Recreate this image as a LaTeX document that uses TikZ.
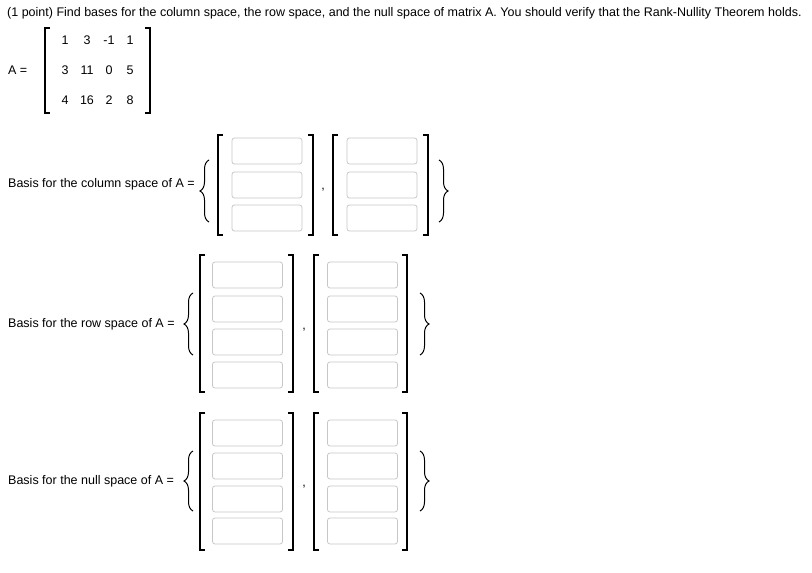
\documentclass[tikz,border=0pt]{standalone}
\usepackage{fontspec}
\setmainfont{Liberation Sans}
\usetikzlibrary{decorations.pathreplacing}
\tikzset{
  inbox/.style={draw=black!22,fill=white,rounded corners=2.5pt,minimum width=70pt,minimum height=26pt,inner sep=0pt,line width=0.8pt},
  brk/.style={line width=1.1pt},
  txt/.style={font=\fontsize{12.5}{14}\selectfont,inner sep=0pt},
  mtx/.style={font=\fontsize{12.5}{14}\selectfont,inner sep=0pt},
  brc/.style={line width=1pt,decorate,decoration={brace,amplitude=9pt}}
}
\newcommand{\lbr}[3]{\draw[brk] (#1+5,#2)--(#1,#2)--(#1,#3)--(#1+5,#3);}
\newcommand{\rbr}[3]{\draw[brk] (#1-5,#2)--(#1,#2)--(#1,#3)--(#1-5,#3);}
\begin{document}
\begin{tikzpicture}[x=1pt,y=-1pt]
\useasboundingbox (0,0) rectangle (812,573);
\node[txt,anchor=west] (title) at (7,13) {(1 point) Find bases for the column space, the row space, and the null space of matrix A. You should verify that the Rank-Nullity Theorem holds.};
\node[txt,anchor=west] (aeq) at (8,70) {A =};
\lbr{45}{28}{113}\rbr{150}{28}{113}
\node[mtx] (m11) at (65,40) {1};\node[mtx] (m12) at (87,40) {3};\node[mtx] (m13) at (109,40) {-1};\node[mtx] (m14) at (130,40) {1};
\node[mtx] (m21) at (65,70) {3};\node[mtx] (m22) at (87,70) {11};\node[mtx] (m23) at (109,70) {0};\node[mtx] (m24) at (130,70) {5};
\node[mtx] (m31) at (65,100) {4};\node[mtx] (m32) at (87,100) {16};\node[mtx] (m33) at (109,100) {2};\node[mtx] (m34) at (130,100) {8};
% column space
\node[txt,anchor=west] (lc) at (8,184) {Basis for the column space of A =};
\draw[brc] (209,222) -- (209,160);
\lbr{218}{135}{235}\rbr{313}{135}{235}
\lbr{333}{135}{235}\rbr{428}{135}{235}
\foreach \i/\y in {1/151,2/185,3/218}{
  \node[inbox] (ca\i) at (267,\y) {};
  \node[inbox] (cb\i) at (382,\y) {};
}
\node[txt] (cc) at (323,190) {,};
\draw[brc] (439,160) -- (439,222);
% row space
\node[txt,anchor=west] (lr) at (8,324) {Basis for the row space of A =};
\draw[brc] (193,355) -- (193,293);
\lbr{200}{255}{392}\rbr{293}{255}{392}
\lbr{314}{255}{392}\rbr{407}{255}{392}
\foreach \i/\y in {1/275,2/309,3/342,4/375}{
  \node[inbox] (ra\i) at (247.5,\y) {};
  \node[inbox] (rb\i) at (362.5,\y) {};
}
\node[txt] (rc) at (304,330) {,};
\draw[brc] (420,293) -- (420,355);
% null space
\node[txt,anchor=west] (ln) at (8,481) {Basis for the null space of A =};
\draw[brc] (193,511) -- (193,451);
\lbr{200}{413}{550}\rbr{293}{413}{550}
\lbr{314}{413}{550}\rbr{407}{413}{550}
\foreach \i/\y in {1/433,2/466,3/499,4/531}{
  \node[inbox] (na\i) at (247.5,\y) {};
  \node[inbox] (nb\i) at (362.5,\y) {};
}
\node[txt] (nc) at (304,487) {,};
\draw[brc] (420,451) -- (420,511);
\end{tikzpicture}
\end{document}
